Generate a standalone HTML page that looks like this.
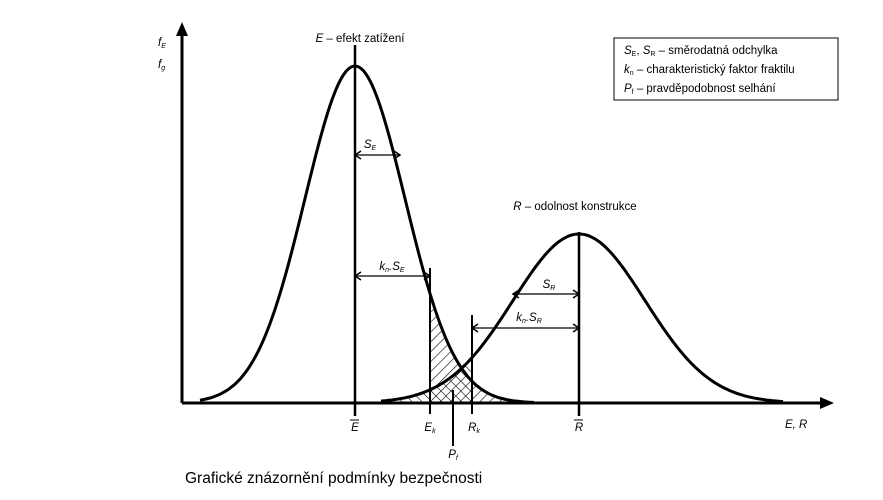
<!DOCTYPE html>
<html><head><meta charset="utf-8"><style>
body{margin:0;background:#fff;}
svg{display:block;font-family:"Liberation Sans",sans-serif;}
text{font-size:11.5px;fill:#000;}
</style></head><body>
<svg width="883" height="500" viewBox="0 0 883 500">
<defs>
<pattern id="h1" width="7" height="7" patternUnits="userSpaceOnUse" patternTransform="rotate(45)"><line x1="0" y1="0" x2="0" y2="7" stroke="#000" stroke-width="1.2"/></pattern>
<pattern id="h2" width="7" height="7" patternUnits="userSpaceOnUse" patternTransform="rotate(-45)"><line x1="0" y1="0" x2="0" y2="7" stroke="#000" stroke-width="1.2"/></pattern>
</defs>
<g id="plot"></g>
<rect x="614" y="38" width="224" height="62" fill="none" stroke="#000" stroke-width="1"/>
<text x="624" y="54"><tspan font-style="italic">S</tspan><tspan font-size="7" dy="2">E</tspan><tspan dy="-2">, </tspan><tspan font-style="italic">S</tspan><tspan font-size="7" dy="2">R</tspan><tspan dy="-2"> – směrodatná odchylka</tspan></text>
<text x="624" y="73"><tspan font-style="italic">k</tspan><tspan font-size="7" dy="2">n</tspan><tspan dy="-2"> – charakteristický faktor fraktilu</tspan></text>
<text x="624" y="92"><tspan font-style="italic">P</tspan><tspan font-size="7" dy="2">f</tspan><tspan dy="-2"> – pravděpodobnost selhání</tspan></text>
<text x="158" y="46" font-style="italic">f<tspan font-size="7" dy="2">E</tspan></text>
<text x="158" y="68" font-style="italic">f<tspan font-size="7" dy="2">g</tspan></text>
<text x="360" y="42" text-anchor="middle"><tspan font-style="italic">E</tspan> – efekt zatížení</text>
<text x="575" y="210" text-anchor="middle"><tspan font-style="italic">R</tspan> – odolnost konstrukce</text>
<text x="785" y="428" font-style="italic">E, R</text>
<text x="185" y="483" style="font-size:15.5px">Grafické znázornění podmínky bezpečnosti</text>
</svg>
<script>
const eParams=[355,50,337];
const rParams=[579,66,169];
const ekX=[430];
const rkX=[472];
const pfX=[453];
const svgNS="http://www.w3.org/2000/svg";
const g=document.getElementById('plot');
const base=403;
function gauss(p,x){return base-p[2]*Math.exp(-0.5*Math.pow((x-p[0])/p[1],2));}
function mk(tag,attrs){const e=document.createElementNS(svgNS,tag);for(const k in attrs)e.setAttribute(k,attrs[k]);g.appendChild(e);return e;}
function curvePts(p,x0,x1){let s=[];for(let x=x0;x<=x1;x+=2)s.push(x+','+gauss(p,x).toFixed(1));return s;}
let a=curvePts(eParams,ekX[0],eParams[0]+3.6*eParams[1]);
let h1=mk('polygon',{points:ekX[0]+','+base+' '+a.join(' ')+' '+(eParams[0]+3.6*eParams[1])+','+base,fill:'url(#h1)'});

let b=curvePts(rParams,rParams[0]-3*rParams[1],rkX[0]);
let h2=mk('polygon',{points:(rParams[0]-3*rParams[1])+','+base+' '+b.join(' ')+' '+rkX[0]+','+base,fill:'url(#h2)'});

let ec=mk('polyline',{points:curvePts(eParams,200,eParams[0]+3.6*eParams[1]).join(' '),fill:'none',stroke:'#000','stroke-width':3});

let rc=mk('polyline',{points:curvePts(rParams,rParams[0]-3*rParams[1],rParams[0]+3.1*rParams[1]).join(' '),fill:'none',stroke:'#000','stroke-width':3});

let ya=mk('line',{x1:182,y1:32,x2:182,y2:base,stroke:'#000','stroke-width':3});

let yar=mk('polygon',{points:'182,22 176,36 188,36'});

let xa=mk('line',{x1:182,y1:base,x2:822,y2:base,stroke:'#000','stroke-width':3});

let xar=mk('polygon',{points:'834,403 820,397 820,409'});

function vline(x,y1,y2,name,w){let l=mk('line',{x1:x,y1:y1,x2:x,y2:y2,stroke:'#000','stroke-width':w||2});}
vline(eParams[0],45,416,'e-mean-line',2.5);
vline(rParams[0],gauss(rParams,rParams[0])-2,416,'r-mean-line',2.5);
vline(ekX[0],268,414,'ek-line');
vline(rkX[0],315,414,'rk-line');
vline(pfX[0],390,446,'pf-line');
function arrow(x1,x2,y,name){let l=mk('line',{x1:x1,y1:y,x2:x2,y2:y,stroke:'#000','stroke-width':1.3});
 let p=mk('path',{d:`M${x2-6},${y-4} L${x2},${y} L${x2-6},${y+4} M${x1+6},${y-4} L${x1},${y} L${x1+6},${y+4}`,fill:'none',stroke:'#000','stroke-width':1.5});}
arrow(eParams[0],eParams[0]+45,155,'se-arrow');
arrow(eParams[0],ekX[0],276,'kn-se-arrow');
arrow(rParams[0]-66,rParams[0],294,'sr-arrow');
arrow(rkX[0],rParams[0],328,'kn-sr-arrow');
function lab(x,y,main,sub,name,over){let t=mk('text',{x:x,y:y,'text-anchor':'middle','font-style':'italic'});t.innerHTML=main+(sub?'<tspan font-size="7" dy="2">'+sub+'</tspan>':'');
 if(over){let o=mk('line',{x1:x-5,y1:y-11,x2:x+4,y2:y-11,stroke:'#000','stroke-width':1});}}
lab(eParams[0],431,'E','','tick-e-mean',true);
lab(ekX[0],431,'E','k','tick-ek');
lab(rkX[0]+2,431,'R','k','tick-rk');
lab(rParams[0],431,'R','','tick-r-mean',true);
lab(pfX[0],458,'P','f','tick-pf');
lab(eParams[0]+15,148,'S','E','se-label');
lab(eParams[0]+37,270,'k','n','kn-se-label');
g.lastChild.innerHTML='k<tspan font-size="7" dy="2">n</tspan><tspan dy="-2">.S</tspan><tspan font-size="7" dy="2">E</tspan>';
lab(rParams[0]-30,288,'S','R','sr-label');
lab(rParams[0]-50,321,'k','n','kn-sr-label');
g.lastChild.innerHTML='k<tspan font-size="7" dy="2">n</tspan><tspan dy="-2">.S</tspan><tspan font-size="7" dy="2">R</tspan>';
</script>
</body></html>
